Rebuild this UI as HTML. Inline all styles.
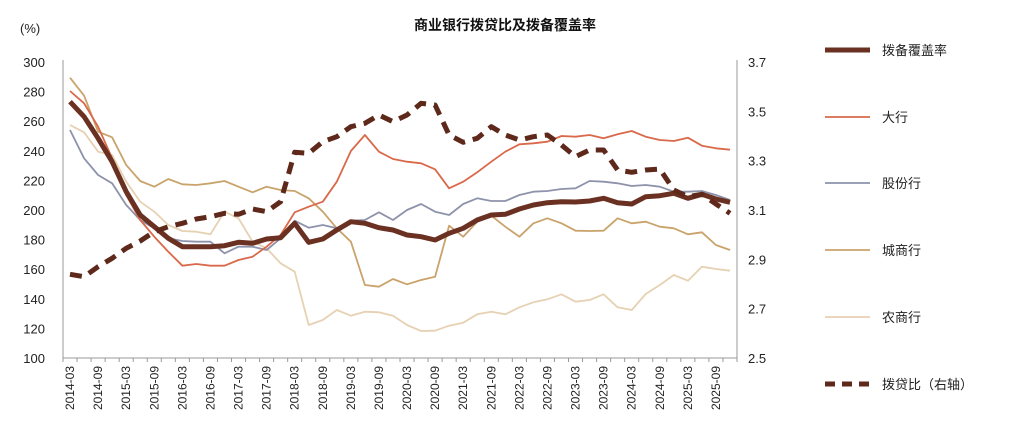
<!DOCTYPE html>
<html><head><meta charset="utf-8"><style>
body{margin:0;background:#fff;}
svg{display:block;font-family:"Liberation Sans","Noto Sans CJK SC",sans-serif;}
</style></head><body>
<svg id="s" width="1015" height="440" viewBox="0 0 1015 440">
<rect width="1015" height="440" fill="#fff"/>
<text x="505" y="30" font-size="14" font-weight="bold" text-anchor="middle" fill="#111">商业银行拨贷比及拨备覆盖率</text>
<text x="20" y="33" font-size="13" fill="#222">(%)</text>
<g id="g"></g>
</svg>
<script>
const NS="http://www.w3.org/2000/svg";
const g=document.getElementById('g');
function el(t,a,txt){const e=document.createElementNS(NS,t);for(const k in a)e.setAttribute(k,a[k]);if(txt!==undefined)e.textContent=txt;g.appendChild(e);return e;}
const X0=63,X1=737,Y0=62,Y1=358;
el('line',{x1:X0,y1:Y0-2,x2:X0,y2:Y1,stroke:'#999','stroke-width':1});
el('line',{x1:X1,y1:Y0-2,x2:X1,y2:Y1,stroke:'#999','stroke-width':1});
el('line',{x1:X0,y1:Y1,x2:X1,y2:Y1,stroke:'#999','stroke-width':1});
const step=(X1-X0)/48;
for(let i=0;i<=48;i++){const x=X0+i*step;el('line',{x1:x,y1:Y1,x2:x,y2:Y1+4,stroke:'#999'});}
for(let v=100;v<=300;v+=20){const y=Y1-(v-100)*1.48;el('text',{x:45,y:y+5,'font-size':13,'text-anchor':'end',fill:'#222'},v);}
for(let k=0;k<=6;k++){const v=2.5+k*0.2;const y=Y1-k*0.2/1.2*296;el('text',{x:748,y:y+5,'font-size':13,fill:'#222'},v.toFixed(1));}
for(let i=0;i<48;i+=2){const yr=2014+Math.floor(i/4);const m=(i%4==0)?'03':'09';const x=X0+step*(i+0.5);
el('text',{transform:`translate(${x+4},366) rotate(-90)`,'font-size':12,'text-anchor':'end',fill:'#222'},yr+'-'+m);}
function path(z){return z.map((v,i)=>(i?'L':'M')+(X0+step*(i+0.5)).toFixed(1)+','+(55+v/3).toFixed(1)).join(' ');}
const light=[210,232,290,300,380,440,470,510,528,530,538,470,490,560,580,625,650,810,795,765,782,770,772,782,810,828,827,812,803,778,770,778,757,742,733,718,740,735,718,757,765,717,690,660,677,635,642,647];
const tan=[68,122,230,247,330,378,395,372,388,390,385,378,395,412,395,405,408,430,470,520,560,690,695,672,688,675,665,512,545,500,482,515,545,505,490,505,527,528,527,490,505,500,515,520,538,532,570,585];
const blue=[225,310,360,385,450,495,520,550,558,560,560,595,575,575,585,550,497,518,510,520,497,495,472,495,465,447,470,480,447,430,438,438,420,410,408,402,400,378,380,385,393,390,395,410,410,408,420,435];
const red=[108,145,215,310,420,495,545,590,632,627,632,632,615,605,575,540,472,455,440,380,288,240,290,312,320,325,343,400,380,352,320,290,268,265,260,243,245,240,250,238,228,245,255,258,248,272,280,284];
const main=[140,185,250,320,410,480,515,550,575,575,575,572,562,565,552,548,505,562,552,525,500,505,518,525,540,545,555,535,520,495,480,478,462,450,443,440,441,438,430,443,447,425,422,415,430,418,432,442];
const dash=[658,665,635,610,580,558,530,515,505,492,485,475,478,462,470,440,292,295,260,245,215,205,180,200,180,145,150,240,262,250,215,240,255,245,240,270,305,285,285,345,352,345,342,405,425,418,447,475];
const S=[[light,'#e6d1b3',1.8],[tan,'#c9a36b',1.8],[blue,'#8e93ab',1.8],[red,'#d9694a',1.8],[main,'#6a3021',5]];
S.forEach(s=>el('path',{d:path(s[0]),fill:'none',stroke:s[1],'stroke-width':s[2],'stroke-linejoin':'round'}));
el('path',{d:path(dash),fill:'none',stroke:'#5e281b','stroke-width':5,'stroke-dasharray':'12,8','stroke-linejoin':'round'});
const L=[['拨备覆盖率','#6a3021',5,0,50],['大行','#d9694a',1.8,0,117],['股份行','#8e93ab',1.8,0,183],['城商行','#c9a36b',1.8,0,250],['农商行','#e6d1b3',1.8,0,317],['拨贷比（右轴）','#5e281b',5,1,384]];
L.forEach(l=>{const a={x1:825,y1:l[4],x2:870,y2:l[4],stroke:l[1],'stroke-width':l[2]};if(l[3])a['stroke-dasharray']='10,7';el('line',a);
el('text',{x:882,y:l[4]+5,'font-size':13,fill:'#222'},l[0]);});
</script>
</body></html>
